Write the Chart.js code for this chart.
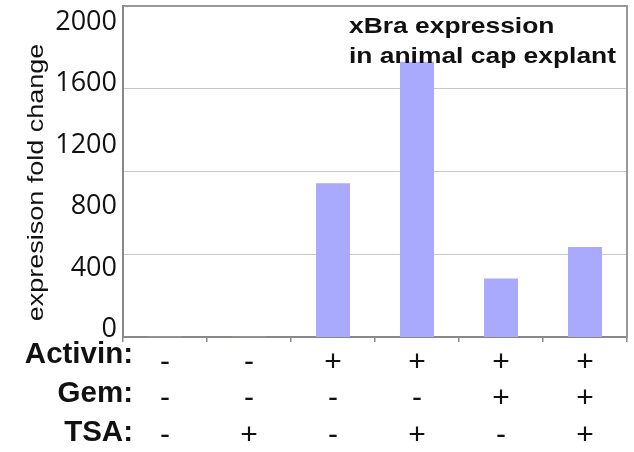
<!DOCTYPE html>
<html>
<head>
<meta charset="utf-8">
<script src="https://cdn.jsdelivr.net/npm/chart.js@4.4.1/dist/chart.umd.min.js"></script>
<style>
  html, body { margin: 0; padding: 0; background: #fff; }
  canvas { display: block; }
</style>
</head>
<body>
<canvas id="c" width="634" height="452"></canvas>
<script>
// Treatments applied to each animal cap sample
const activin = ['-', '-', '+', '+', '+', '+'];
const gem     = ['-', '-', '-', '-', '+', '+'];
const tsa     = ['-', '+', '-', '+', '-', '+'];
// xBra expression fold change per sample
const foldChange = [1, 1, 1000, 1790, 380, 585];
// Labelled values on the y axis
const yTickValues = [0, 400, 800, 1200, 1600, 2000];
const rowNames = ['Activin:', 'Gem:', 'TSA:'];
const titleLines = ['xBra expression', 'in animal cap explant'];
const yTitle = 'expresison fold change';

const Y_MAX = 2153;
const categories = activin.map((a, i) => [a, gem[i], tsa[i]]);
const SANS = '"Liberation Sans", Arial, Helvetica, sans-serif';

// Keep the plot frame fixed: no extra room for overhanging tick labels
function noOverhang(s) {
  s.paddingTop = 0; s.paddingBottom = 0;
  s.paddingLeft = 0; s.paddingRight = 0;
}

// Title, y-axis caption and treatment row names (set in a widened face)
const figureText = {
  id: 'figureText',
  afterDraw(chart) {
    const { ctx, chartArea: a } = chart;
    ctx.save();
    ctx.fillStyle = '#111';
    ctx.textBaseline = 'alphabetic';

    ctx.font = 'bold 22px ' + SANS;
    ctx.textAlign = 'left';
    titleLines.forEach((t, i) => {
      ctx.save();
      ctx.translate(a.left + 226, a.top + 27 + i * 30);
      ctx.scale(1.2, 1);
      ctx.fillText(t, 0, 0);
      ctx.restore();
    });

    ctx.save();
    ctx.translate(43, (a.top + a.bottom) / 2 + 11);
    ctx.rotate(-Math.PI / 2);
    ctx.scale(1.2, 1);
    ctx.font = '22.5px ' + SANS;
    ctx.textAlign = 'center';
    ctx.fillText(yTitle, 0, 0);
    ctx.restore();

    ctx.font = 'bold 29.5px ' + SANS;
    ctx.textAlign = 'right';
    rowNames.forEach((t, i) => ctx.fillText(t, a.left + 10, a.bottom + 26 + i * 39));
    ctx.restore();
  }
};

new Chart(document.getElementById('c'), {
  type: 'bar',
  data: {
    labels: categories,
    datasets: [{
      data: foldChange,
      yAxisID: 'y',
      backgroundColor: '#a9a9fd',
      borderWidth: 0,
      barPercentage: 0.405,
      categoryPercentage: 1
    }]
  },
  options: {
    responsive: false,
    animation: false,
    layout: { padding: { top: 6, right: 7, left: 0, bottom: 0 } },
    plugins: {
      legend: { display: false },
      tooltip: { enabled: false },
      title: { display: false }
    },
    scales: {
      x: {
        grid: {
          display: true, drawOnChartArea: false, drawTicks: true,
          tickLength: 5, offset: true, color: '#888', lineWidth: 1.5
        },
        border: { display: true, color: '#888', width: 2 },
        ticks: {
          color: '#111',
          font: { family: SANS, size: 30, lineHeight: 1.22 },
          padding: 2, autoSkip: false, maxRotation: 0
        },
        afterFit(s) { s.height = 115; noOverhang(s); }
      },
      y: {
        min: 0, max: Y_MAX,
        grid: { display: false, drawTicks: false },
        border: { display: true, color: '#888', width: 2 },
        ticks: {
          color: '#111',
          font: { family: '"Open Sans", "Noto Sans", sans-serif', size: 27 },
          padding: 6, labelOffset: -7.5,
          callback: v => String(v)
        },
        afterBuildTicks(s) { s.ticks = yTickValues.map(v => ({ value: v })); },
        afterFit(s) { s.width = 123; noOverhang(s); }
      },
      yGrid: {
        position: 'right',
        min: 0, max: Y_MAX,
        grid: {
          drawTicks: false,
          color: c => (c.tick && c.tick.value >= Y_MAX ? '#999' : '#c8c8c8'),
          lineWidth: c => (c.tick && c.tick.value >= Y_MAX ? 2 : 1)
        },
        border: { display: true, color: '#999', width: 2 },
        ticks: { display: false },
        afterBuildTicks(s) { s.ticks = [0, 1, 2, 3, 4].map(k => ({ value: k * Y_MAX / 4 })); },
        afterFit(s) { s.width = 0; noOverhang(s); }
      }
    }
  },
  plugins: [figureText]
});
</script>
</body>
</html>
